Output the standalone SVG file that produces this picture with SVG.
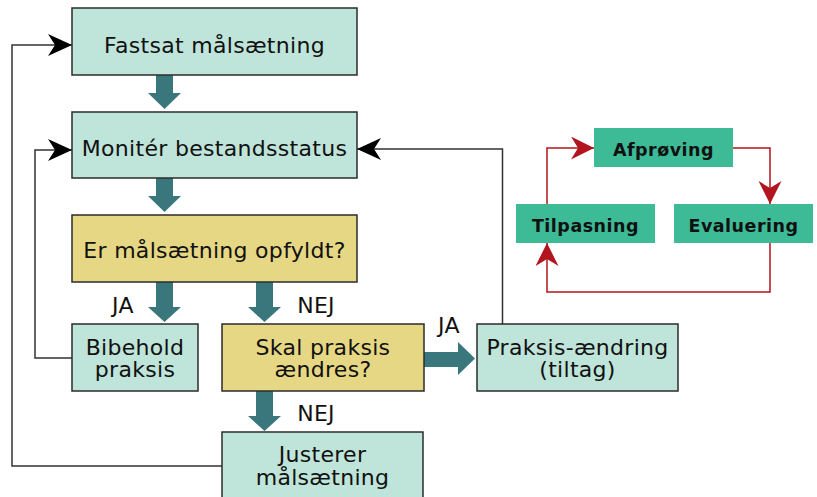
<svg xmlns="http://www.w3.org/2000/svg" width="817" height="497" viewBox="0 0 817 497">
<style>
.bx{stroke:#2b2b2b;stroke-width:1.5}
.lt{fill:#bfe4d9}
.yl{fill:#e6d784}
.gr{fill:#3dbb96}
.t{font-family:"DejaVu Sans",sans-serif;font-size:22px;letter-spacing:0.3px;fill:#111;text-anchor:middle}
.tb{font-family:"DejaVu Sans",sans-serif;font-size:17.5px;font-weight:bold;letter-spacing:0.5px;fill:#111;text-anchor:middle}
.ln{fill:none;stroke:#333;stroke-width:1.5}
.rl{fill:none;stroke:#b3151f;stroke-width:1.5}
.big{fill:#3a777c}
</style>
<defs>
<marker id="ah" viewBox="0 0 24 22" refX="24" refY="11" markerWidth="24" markerHeight="22" markerUnits="userSpaceOnUse" orient="auto">
<path d="M0,0 L24,11 L0,22 L7,11 Z" fill="#000"/>
</marker>
<marker id="rh" viewBox="0 0 23 23" refX="23" refY="11.5" markerWidth="23" markerHeight="23" markerUnits="userSpaceOnUse" orient="auto">
<path d="M0,0 L23,11.5 L0,23 L7,11.5 Z" fill="#b3151f"/>
</marker>
</defs>

<g id="connectors">
<path class="ln" d="M222,466 H12 V45 H72" marker-end="url(#ah)"/>
<path class="ln" d="M72,358 H35 V150 H72" marker-end="url(#ah)"/>
<path class="ln" d="M502.5,324 V149 H357" marker-end="url(#ah)"/>
<path class="big" d="M156,75 H173 V93 H181 L164.5,109 L148,93 H156 Z"/>
<path class="big" d="M156,178 H173 V196 H181 L164.5,212 L148,196 H156 Z"/>
<path class="big" d="M156,282 H173 V307 H181 L164.5,322 L148,307 H156 Z"/>
<path class="big" d="M256,282 H273 V307 H281 L264.5,322 L248,307 H256 Z"/>
<path class="big" d="M256,391 H273 V416 H281 L264.5,431 L248,416 H256 Z"/>
<path class="big" d="M424,352 H458 V342 L475,358.5 L458,375 V367 H424 Z"/>
<path class="rl" d="M547,204 V148 H594" marker-end="url(#rh)"/>
<path class="rl" d="M733,148 H770 V204" marker-end="url(#rh)"/>
<path class="rl" d="M770,243 V292 H547 V243" marker-end="url(#rh)"/>
<text class="t" x="123" y="313">JA</text>
<text class="t" x="316" y="313">NEJ</text>
<text class="t" x="316" y="421">NEJ</text>
<text class="t" x="449" y="333">JA</text>
</g>

<g id="n1"><rect class="bx lt" x="72" y="8" width="285" height="67"/><text class="t" x="214.5" y="53">Fastsat målsætning</text></g>
<g id="n2"><rect class="bx lt" x="72" y="112" width="285" height="66"/><text class="t" x="214.5" y="156">Monitér bestandsstatus</text></g>
<g id="n3"><rect class="bx yl" x="72" y="215" width="285" height="67"/><text class="t" x="214.5" y="258">Er målsætning opfyldt?</text></g>
<g id="n4"><rect class="bx lt" x="72" y="324" width="126" height="67"/><text class="t" x="135" y="355">Bibehold</text><text class="t" x="135" y="377">praksis</text></g>
<g id="n5"><rect class="bx yl" x="222" y="324" width="202" height="67"/><text class="t" x="323" y="355">Skal praksis</text><text class="t" x="323" y="377">ændres?</text></g>
<g id="n6"><rect class="bx lt" x="477" y="324" width="201" height="67"/><text class="t" x="577.5" y="355">Praksis-ændring</text><text class="t" x="577.5" y="377">(tiltag)</text></g>
<g id="n7"><rect class="bx lt" x="222" y="432" width="201" height="70"/><text class="t" x="322.5" y="462">Justerer</text><text class="t" x="322.5" y="485">målsætning</text></g>
<g id="c1"><rect class="gr" x="594" y="128" width="139" height="39"/><text class="tb" x="663.5" y="156">Afprøving</text></g>
<g id="c2"><rect class="gr" x="516" y="204" width="139" height="39"/><text class="tb" x="585.5" y="232">Tilpasning</text></g>
<g id="c3"><rect class="gr" x="674" y="204" width="139" height="39"/><text class="tb" x="743.5" y="232">Evaluering</text></g>
</svg>
